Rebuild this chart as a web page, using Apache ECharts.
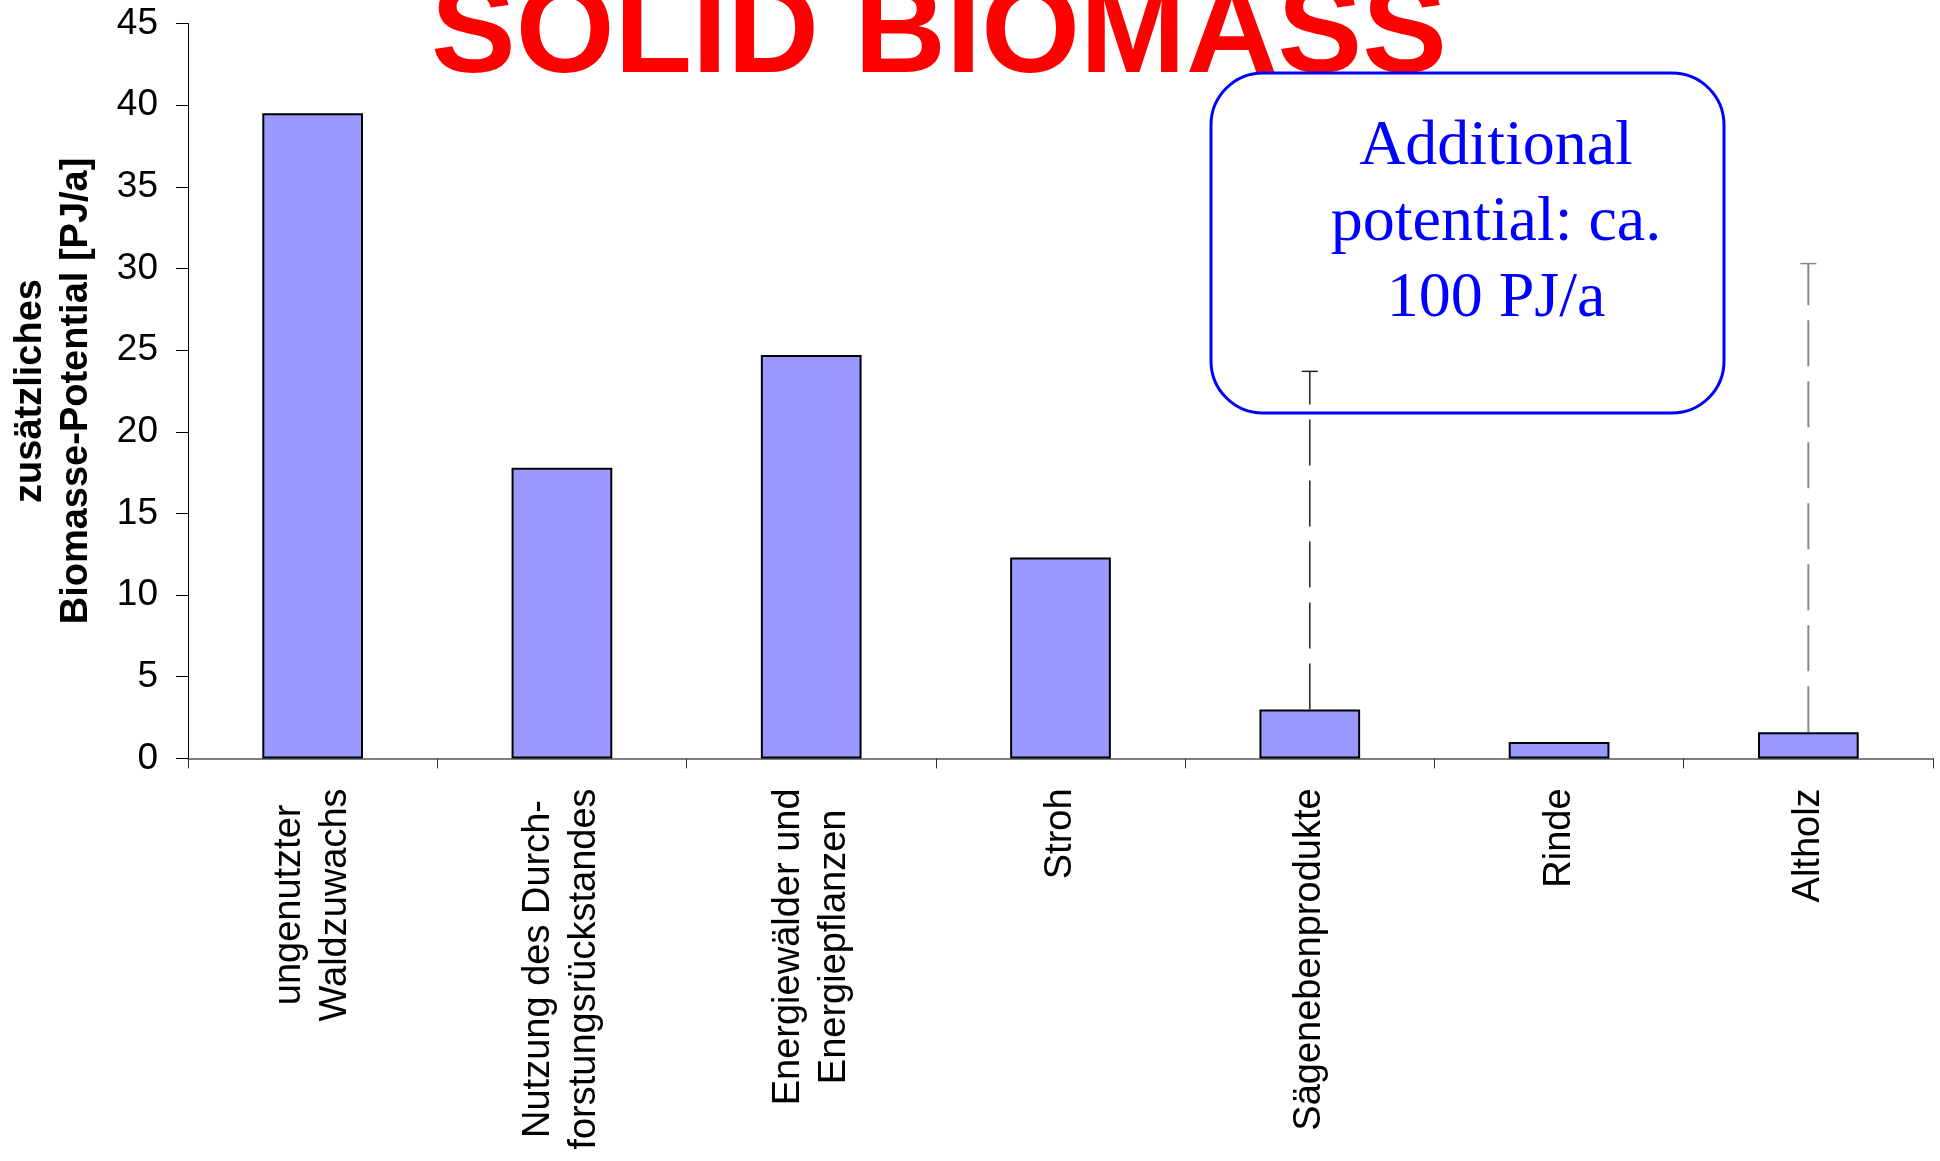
<!DOCTYPE html>
<html>
<head>
<meta charset="utf-8">
<script src="https://cdn.jsdelivr.net/npm/echarts@6/dist/echarts.min.js"></script>
<style>
html,body{margin:0;padding:0;background:#fff;}
#chart{width:1940px;height:1161px;}
</style>
</head>
<body>
<div id="chart"></div>
<script>
const categories = [
  'ungenutzter\nWaldzuwachs',
  'Nutzung des Durch-\nforstungsrückstandes',
  'Energiewälder und\nEnergiepflanzen',
  'Stroh',
  'Sägenebenprodukte',
  'Rinde',
  'Altholz'
];
const values = [39.5, 17.8, 24.7, 12.3, 3.0, 1.0, 1.6];
const rangeHigh = [null, null, null, null, 23.7, null, 30.3];
const yMin = 0, yMax = 45, yInterval = 5;
const titleText = 'SOLID BIOMASS';
const yAxisTitle = 'zusätzliches\nBiomasse-Potential [PJ/a]';
const noteText = 'Additional\npotential: ca.\n100 PJ/a';

const whiskerColors = {4: '#222222', 6: '#888888'};
const whiskerWidths = {4: 1.5, 6: 2};
const sans = '"Liberation Sans", Arial, sans-serif';
const serif = '"Liberation Serif", "Times New Roman", serif';

const whiskerData = [];
rangeHigh.forEach((h, i) => { if (h !== null) whiskerData.push([i, values[i], h]); });

const chart = echarts.init(document.getElementById('chart'));
chart.setOption({
  backgroundColor: '#ffffff',
  animation: false,
  grid: {left: 183, right: 7, top: 23.5, bottom: 402.6, containLabel: false},
  xAxis: {
    type: 'category',
    data: categories,
    boundaryGap: true,
    axisLine: {lineStyle: {color: '#555', width: 1.5}},
    axisTick: {show: true, alignWithLabel: false, length: 10, lineStyle: {color: '#333', width: 1}},
    axisLabel: {
      interval: 0,
      rotate: 90,
      margin: 30,
      color: '#000',
      fontFamily: sans,
      fontSize: 38,
      lineHeight: 46,
      formatter: v => v.split('\n').map(s => '{c|' + s + '}').join('\n'),
      rich: {c: {align: 'center', fontFamily: sans, fontSize: 38, lineHeight: 46, color: '#000'}}
    },
    splitLine: {show: false}
  },
  yAxis: {
    type: 'value',
    min: yMin, max: yMax, interval: yInterval,
    name: yAxisTitle,
    nameLocation: 'middle',
    nameRotate: 90,
    nameGap: 88,
    nameTextStyle: {fontFamily: sans, fontSize: 38, fontWeight: 'bold', color: '#000', lineHeight: 46, align: 'center'},
    axisLine: {show: true, lineStyle: {color: '#000', width: 1}},
    axisTick: {show: true, length: 12, lineStyle: {color: '#000', width: 1}},
    axisLabel: {margin: 30, color: '#000', fontFamily: sans, fontSize: 37},
    splitLine: {show: false}
  },
  graphic: [
    {
      type: 'text', z: 5,
      x: 939, y: 37,
      style: {text: titleText, fill: '#ff0000', font: 'bold 127px ' + sans, textAlign: 'center', textVerticalAlign: 'middle'}
    },
    {
      type: 'rect', z: 5,
      shape: {x: 1211, y: 73, width: 513, height: 340, r: 52},
      style: {fill: '#ffffff', stroke: '#0000ff', lineWidth: 3}
    },
    {
      type: 'text', z: 6,
      x: 1496, y: 223,
      style: {text: noteText, fill: '#0000ff', font: '64px ' + serif, lineHeight: 76, textAlign: 'center', textVerticalAlign: 'middle'}
    }
  ],
  series: [
    {
      type: 'bar',
      data: values,
      barWidth: '40.4%',
      itemStyle: {color: '#9999ff', borderColor: '#000', borderWidth: 2},
      z: 2
    },
    {
      type: 'custom',
      z: 10,
      data: whiskerData,
      encode: {x: 0, y: [1, 2]},
      renderItem: function (params, api) {
        const idx = api.value(0);
        const lo = api.coord([idx, api.value(1)]);
        const hi = api.coord([idx, api.value(2)]);
        const c = whiskerColors[idx] || '#333';
        const w = whiskerWidths[idx] || 1.5;
        return {
          type: 'group',
          children: [
            {type: 'line', shape: {x1: lo[0], y1: lo[1], x2: hi[0], y2: hi[1]}, style: {stroke: c, lineWidth: w, lineDash: [46, 15]}},
            {type: 'line', shape: {x1: hi[0] - 8, y1: hi[1], x2: hi[0] + 8, y2: hi[1]}, style: {stroke: c, lineWidth: 1.5}}
          ]
        };
      }
    }
  ]
});
</script>
</body>
</html>
